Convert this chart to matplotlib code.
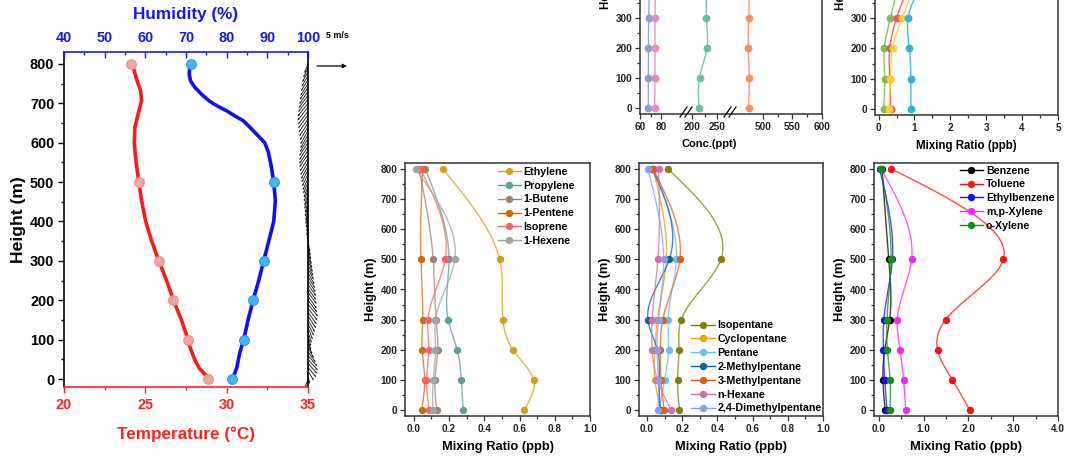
import numpy as np
import matplotlib
matplotlib.use("Agg")
import matplotlib.pyplot as plt
from matplotlib.lines import Line2D
from matplotlib.ticker import MultipleLocator, FormatStrFormatter, FixedLocator, FuncFormatter

plt.rcParams['font.family'] = ['Liberation Sans', 'DejaVu Sans']
plt.rcParams['font.weight'] = 'bold'
plt.rcParams['axes.labelweight'] = 'bold'

# ---------------- data ----------------
# Left panel: temperature / humidity profile
prof_h_T = [0, 8, 28, 49, 83, 100, 150, 200, 251, 300, 352, 399, 453, 500, 555, 599, 639, 673, 706, 732, 761, 791, 800]
prof_T = [28.83, 28.76, 28.31, 28.04, 27.73, 27.63, 27.22, 26.73, 26.30, 25.83, 25.38, 25.03, 24.77, 24.60,
          24.42, 24.32, 24.36, 24.56, 24.77, 24.71, 24.46, 24.26, 24.11]
prof_h_RH = [0, 15, 32, 66, 100, 150, 200, 251, 300, 352, 400, 453, 500, 538, 576, 600, 622, 635, 656, 668,
             681, 694, 706, 723, 740, 757, 774, 791, 800]
prof_RH = [81.25, 82.0, 82.56, 83.2, 84.2, 85.26, 86.5, 87.9, 89.1, 90.4, 91.57, 91.98, 91.57, 91.0, 90.26,
           89.36, 87.3, 86.1, 84.04, 82.0, 79.94, 77.5, 75.7, 73.8, 72.2, 71.1, 70.8, 70.9, 71.2]
mark_h = [0, 100, 200, 300, 500, 800]
mark_T = [28.83, 27.63, 26.73, 25.83, 24.6, 24.1]
mark_RH = [81.25, 84.2, 86.5, 89.1, 91.6, 71.3]

# wind vectors (m/s) every 10 m from 0 to 800 m
wind_h = list(range(0, 801, 10))
wind_u = [-0.5, 0.3, 1.0, 1.4, 1.6, 1.7, 1.6, 1.3, 1.0, 0.7,
          0.5, 0.5, 0.6, 0.8, 1.0, 1.2, 1.4, 1.5, 1.6, 1.7,
          1.6, 1.5, 1.5, 1.4, 1.4, 1.3, 1.2, 1.1, 1.0, 0.9,
          0.8, 0.7, 0.6, 0.5, 0.4, 0.3, 0.1, 0.0, -0.1, -0.2,
          -0.2, -0.3, -0.4, -0.4, -0.5, -0.5, -0.6, -0.6, -0.7, -0.7,
          -0.8, -0.9, -1.0, -1.1, -1.2, -1.3, -1.4, -1.5, -1.5, -1.5,
          -1.5, -1.4, -1.3, -1.3, -1.4, -1.5, -1.6, -1.7, -1.7, -1.8,
          -1.8, -1.7, -1.6, -1.5, -1.4, -1.3, -1.2, -1.1, -1.0, -0.8,
          -0.6]
wind_v = [-1.4, -1.5, -1.6, -1.7, -1.8, -1.9, -1.9, -1.9, -1.8, -1.8,
          -1.8, -1.8, -1.9, -2.0, -2.0, -2.1, -2.1, -2.1, -2.1, -2.1,
          -2.1, -2.1, -2.0, -2.0, -2.0, -2.0, -2.0, -2.0, -1.9, -1.9,
          -1.9, -1.9, -1.9, -1.8, -1.8, -1.8, -1.8, -1.8, -1.8, -1.8,
          -1.8, -1.8, -1.8, -1.9, -1.9, -1.9, -1.9, -2.0, -2.0, -2.0,
          -2.0, -2.1, -2.1, -2.1, -2.2, -2.2, -2.2, -2.2, -2.3, -2.3,
          -2.3, -2.3, -2.3, -2.3, -2.3, -2.3, -2.3, -2.3, -2.3, -2.3,
          -2.3, -2.2, -2.2, -2.2, -2.1, -2.1, -2.0, -1.9, -1.8, -1.7,
          -1.6]

# VOC profiles
levels = [0, 100, 200, 300, 500, 800]

alkene_names = ['Ethylene', 'Propylene', '1-Butene', '1-Pentene', 'Isoprene', '1-Hexene']
ethylene = [0.625, 0.68, 0.562, 0.506, 0.487, 0.165]
propylene = [0.28, 0.27, 0.246, 0.195, 0.20, 0.066]
butene1 = [0.13, 0.12, 0.136, 0.127, 0.11, 0.03]
pentene1 = [0.044, 0.062, 0.047, 0.05, 0.04, 0.05]
isoprene = [0.087, 0.072, 0.085, 0.08, 0.178, 0.038]
hexene1 = [0.108, 0.11, 0.123, 0.123, 0.233, 0.01]
alkene_colors = ['#D4A017', '#5E9E9A', '#9C8478', '#CC6A10', '#FF6262', '#A3A3A3']

alkane_names = ['Isopentane', 'Cyclopentane', 'Pentane', '2-Methylpentane', '3-Methylpentane',
                'n-Hexane', '2,4-Dimethylpentane']
isopentane = [0.185, 0.174, 0.182, 0.195, 0.42, 0.12]
cyclopentane = [0.08, 0.045, 0.045, 0.06, 0.11, 0.035]
pentane = [0.07, 0.10, 0.123, 0.12, 0.167, 0.04]
methylpentane2 = [0.075, 0.07, 0.06, 0.005, 0.127, 0.03]
methylpentane3 = [0.098, 0.08, 0.076, 0.09, 0.187, 0.035]
nhexane = [0.138, 0.06, 0.03, 0.03, 0.0625, 0.066]
dimethylpentane24 = [0.0625, 0.065, 0.057, 0.066, 0.095, 0.005]
alkane_colors = ['#808010', '#F0A000', '#66C0F0', '#1060A0', '#E06010', '#D070A8', '#8C9CF8']

aromatic_names = ['Benzene', 'Toluene', 'Ethylbenzene', 'm,p-Xylene', 'o-Xylene']
benzene = [0.14, 0.09, 0.13, 0.24, 0.22, 0.07]
toluene = [2.03, 1.64, 1.31, 1.49, 2.78, 0.28]
ethylbenzene = [0.18, 0.13, 0.10, 0.11, 0.30, 0.015]
mpxylene = [0.60, 0.55, 0.47, 0.41, 0.73, 0.05]
oxylene = [0.25, 0.25, 0.19, 0.18, 0.27, 0.05]
aromatic_colors = ['#000000', '#FF1010', '#1010FF', '#FF20FF', '#109010']

# top panels (only lower part visible)
top_levels = [0, 100, 200, 300, 500]
conc_a = [67.9, 68.0, 68.0, 68.3, 70.0]
conc_b = [74.0, 74.3, 74.3, 74.3, 76.0]
conc_c = [214.6, 215.0, 230.0, 228.6, 240.0]
conc_d = [475.5, 476.7, 475.0, 476.0, 476.0]
conc_colors = ['#8DA0CB', '#E78AC3', '#66C2A5', '#FC8D62']
conc_ticks = [60, 80, 200, 250, 500, 550, 600]

mix_a = [0.14, 0.17, 0.16, 0.33, 0.70]
mix_b = [0.34, 0.31, 0.31, 0.50, 1.20]
mix_c = [0.28, 0.33, 0.39, 0.65, 1.40]
mix_d = [0.90, 0.90, 0.86, 0.82, 1.80]
mix_colors = ['#7CBF50', '#FF4D4D', '#FFD035', '#2BB5D9']

# ---------------- helpers ----------------
W, H = 1067, 461
fig = plt.figure(figsize=(W / 100, H / 100), dpi=100)


def rect(l, t, r, b):
    return [l / W, 1 - b / H, (r - l) / W, (b - t) / H]


def spline(hk, xk, num=300):
    hk = np.asarray(hk, float)
    xk = np.asarray(xk, float)
    n = len(hk)
    d = np.diff(hk)
    A = np.zeros((n, n))
    r = np.zeros(n)
    A[0, 0] = A[-1, -1] = 1
    for i in range(1, n - 1):
        A[i, i - 1] = d[i - 1]
        A[i, i] = 2 * (d[i - 1] + d[i])
        A[i, i + 1] = d[i]
        r[i] = 6 * ((xk[i + 1] - xk[i]) / d[i] - (xk[i] - xk[i - 1]) / d[i - 1])
    M = np.linalg.solve(A, r)
    t = np.linspace(hk[0], hk[-1], num)
    i = np.clip(np.searchsorted(hk, t) - 1, 0, n - 2)
    a = hk[i + 1] - t
    b = t - hk[i]
    hi = d[i]
    x = (M[i] * a ** 3 + M[i + 1] * b ** 3) / (6 * hi) + (xk[i] / hi - M[i] * hi / 6) * a \
        + (xk[i + 1] / hi - M[i + 1] * hi / 6) * b
    return x, t


TICK_FS = 7.2
LAB_FS = 9.3
SPINE_C = '#333333'


def style_small(ax, lab_fs=LAB_FS):
    for s in ax.spines.values():
        s.set_color(SPINE_C)
        s.set_linewidth(1.1)
    ax.tick_params(which='both', direction='out', top=False, right=False,
                   labelsize=TICK_FS, pad=2, width=0.9, colors=SPINE_C, labelcolor='#222222')
    ax.tick_params(which='major', length=3.5)
    ax.tick_params(which='minor', length=2)
    ax.set_ylim(-20, 820)
    ax.yaxis.set_major_locator(MultipleLocator(100))
    ax.yaxis.set_minor_locator(MultipleLocator(50))
    ax.set_ylabel('Height (m)', fontsize=lab_fs, labelpad=2.5)


def voc_panel(r, series, names, colors, xlim, major, minor, fmt, lx, ly):
    ax = fig.add_axes(r)
    for vals, c in zip(series, colors):
        xs, hs = spline(levels, vals)
        ax.plot(xs, hs, color=c, lw=1.0, alpha=0.75, zorder=2)
        ax.plot(vals, levels, 'o', color=c, ms=4.3, mec=c, zorder=3)
    style_small(ax)
    ax.set_xlim(*xlim)
    ax.xaxis.set_major_locator(MultipleLocator(major))
    ax.xaxis.set_minor_locator(MultipleLocator(minor))
    ax.xaxis.set_major_formatter(FormatStrFormatter(fmt))
    ax.set_xlabel('Mixing Ratio (ppb)', fontsize=LAB_FS, labelpad=5)
    handles = [Line2D([0], [0], color=c, lw=1.0, marker='o', ms=4.3) for c in colors]
    ax.legend(handles, names, loc='upper left', bbox_to_anchor=(lx, ly), frameon=False,
              fontsize=7.7, handlelength=2.2, handletextpad=0.25, labelspacing=0.36,
              borderpad=0, borderaxespad=0)
    return ax


# ---------------- left panel ----------------
ax = fig.add_axes(rect(64, 52, 308, 387))
axh = ax.twiny()
RED = '#FF2020'
BLUE = '#1515FF'
ax.plot(prof_T, prof_h_T, color='#FF1A1A', lw=2.6, zorder=3)
ax.plot(mark_T, mark_h, 'o', ms=7, color='#F5A3A3', mec='#EE8C8C', mew=0.8, zorder=4)
axh.plot(prof_RH, prof_h_RH, color='#1010F0', lw=2.6, zorder=3)
axh.plot(mark_RH, mark_h, 'o', ms=7, color='#45B5F5', mec='#2A9BE0', mew=0.8, zorder=4)

kx = (29 / 5) / (244 / 15)      # deg C per (m/s)
ky = (29 / 5) / (335 / 848)     # m per (m/s)
ax.quiver(np.full(len(wind_h), 35.0), wind_h, np.array(wind_u) * kx, np.array(wind_v) * ky,
          angles='xy', scale_units='xy', scale=1, color='#111111', width=0.0034,
          headwidth=2.5, headlength=3, headaxislength=2.7, clip_on=False, zorder=2)

ax.set_xlim(20, 35)
axh.set_xlim(40, 100)
ax.set_ylim(-20, 830)
ax.xaxis.set_major_locator(MultipleLocator(5))
ax.xaxis.set_minor_locator(MultipleLocator(2.5))
ax.yaxis.set_major_locator(MultipleLocator(100))
ax.yaxis.set_minor_locator(MultipleLocator(50))
axh.xaxis.set_major_locator(MultipleLocator(10))
axh.xaxis.set_minor_locator(MultipleLocator(5))

ax.spines['top'].set_visible(False)
ax.spines['bottom'].set_color(RED)
ax.spines['left'].set_color('k')
ax.spines['right'].set_color('k')
for s in ['bottom', 'left', 'right']:
    axh.spines[s].set_visible(False)
axh.spines['top'].set_color(BLUE)
for s in ax.spines.values():
    s.set_linewidth(1.2)
axh.spines['top'].set_linewidth(1.2)

ax.tick_params(axis='x', which='both', direction='out', colors=RED, labelcolor=RED, labelsize=10.4, pad=4)
ax.tick_params(axis='y', which='both', direction='out', colors='k', labelsize=10.4, pad=3, right=False)
ax.tick_params(which='major', length=4, width=1)
ax.tick_params(which='minor', length=2.5, width=1)
axh.tick_params(axis='x', which='both', direction='in', colors=BLUE, labelcolor=BLUE, labelsize=10.4, pad=5)
axh.tick_params(which='major', length=4, width=1)
axh.tick_params(which='minor', length=2.5, width=1)

ax.set_xlabel('Temperature (\u00b0C)', color=RED, fontsize=12.3, labelpad=10.5)
axh.set_xlabel('Humidity (%)', color=BLUE, fontsize=12.3, labelpad=9)
ax.set_ylabel('Height (m)', fontsize=12.6, labelpad=3)

# reference wind arrow
ax.annotate('', xy=(347 / W, 1 - 66 / H), xytext=(317 / W, 1 - 66 / H),
            xycoords='figure fraction', textcoords='figure fraction',
            arrowprops=dict(arrowstyle='-|>', lw=0.9, color='k', mutation_scale=6, shrinkA=0, shrinkB=0))
fig.text(337 / W, 1 - 35 / H, '5 m/s', fontsize=6.5, ha='center', va='center')

# ---------------- bottom panels ----------------
voc_panel(rect(405, 163, 590, 416),
          [ethylene, propylene, butene1, pentene1, isoprene, hexene1],
          alkene_names, alkene_colors, (-0.05, 1.0), 0.2, 0.1, '%.1f', 0.50, 0.985)
voc_panel(rect(639, 163, 823, 416),
          [isopentane, cyclopentane, pentane, methylpentane2, methylpentane3, nhexane, dimethylpentane24],
          alkane_names, alkane_colors, (-0.045, 1.0), 0.2, 0.1, '%.1f', 0.285, 0.378)
voc_panel(rect(874, 163, 1058, 416),
          [benzene, toluene, ethylbenzene, mpxylene, oxylene],
          aromatic_names, aromatic_colors, (-0.11, 4.0), 1.0, 0.5, '%.1f', 0.465, 0.99)

# ---------------- top middle panel (broken axis) ----------------
bp_data = [60, 104.2, 188.8, 278, 445.8, 600]
bp_frac = [0, 0.255, 0.255, 0.50, 0.50, 1.0]
inv_frac = [0, 0.255, 0.25501, 0.50, 0.50001, 1.0]


def fwd(x):
    return np.interp(x, bp_data, bp_frac)


def inv(y):
    return np.interp(y, inv_frac, bp_data)


low_fmt = FuncFormatter(lambda v, p: '%d' % v if v <= 300 else '')

axc = fig.add_axes(rect(640, -139, 822, 114))
axc.set_xscale('function', functions=(fwd, inv))
for vals, c in zip([conc_a, conc_b, conc_c, conc_d], conc_colors):
    xs, hs = spline(top_levels, vals)
    axc.plot(xs, hs, color=c, lw=1.0, alpha=0.9)
    axc.plot(vals, top_levels, 'o', color=c, ms=4.6, mec=c)
style_small(axc, lab_fs=8.3)
axc.yaxis.set_major_formatter(low_fmt)
axc.set_xlim(60, 600)
axc.xaxis.set_major_locator(FixedLocator(conc_ticks))
axc.xaxis.set_minor_locator(FixedLocator([70, 225, 525, 575]))
axc.xaxis.set_major_formatter(FormatStrFormatter('%d'))
axc.set_xlabel('Conc.(ppt)', fontsize=8.0, labelpad=5)
axc.xaxis.set_label_coords((709 - 640) / 182, -0.1)
axc.yaxis.label.set_y(0.526)
# break marks
for cx in (686, 730):
    for dx in (-2.5, 2.5):
        x0, y0 = cx + dx - 3.5, 117
        x1, y1 = cx + dx + 3.5, 107
        fig.add_artist(Line2D([x0 / W, x1 / W], [1 - y0 / H, 1 - y1 / H], color='k', lw=0.9))

# ---------------- top right panel ----------------
axm = fig.add_axes(rect(875, -139, 1058, 115))
for vals, c in zip([mix_a, mix_b, mix_c, mix_d], mix_colors):
    xs, hs = spline(top_levels, vals)
    axm.plot(xs, hs, color=c, lw=1.0, alpha=0.9)
    axm.plot(vals, top_levels, 'o', color=c, ms=4.6, mec=c)
style_small(axm, lab_fs=8.3)
axm.yaxis.set_major_formatter(low_fmt)
axm.set_xlim(-0.1, 5)
axm.xaxis.set_major_locator(MultipleLocator(1))
axm.xaxis.set_minor_locator(MultipleLocator(0.5))
axm.xaxis.set_major_formatter(FormatStrFormatter('%d'))
axm.set_xlabel('Mixing Ratio (ppb)', fontsize=8.3, labelpad=5)
axm.yaxis.label.set_y(0.526)

fig.savefig('out.png', dpi=100)
